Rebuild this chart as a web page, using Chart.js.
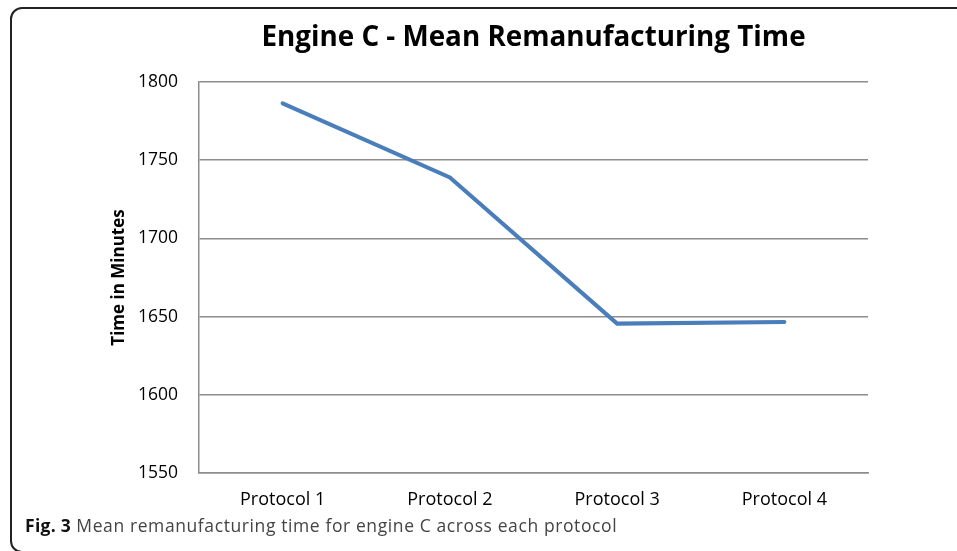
<!DOCTYPE html>
<html>
<head>
<meta charset="utf-8">
<script src="https://cdn.jsdelivr.net/npm/chart.js@4/dist/chart.umd.min.js"></script>
<style>
  html, body { margin: 0; padding: 0; background: #fff; }
  #wrap { position: relative; width: 957px; height: 551px; overflow: hidden; background: #fff; }
  #frame { position: absolute; left: 10px; top: 7px; width: 1000px; height: 546px; border: 2px solid #222; border-radius: 12px; box-sizing: border-box; }
  #c { position: absolute; left: 0; top: 0; }
  #caption { position: absolute; left: 25px; top: 515px; font-family: "Open Sans", sans-serif; font-size: 17.5px; letter-spacing: 0.6px; line-height: 20px; color: #444; white-space: nowrap; }
  #caption b { color: #111; letter-spacing: 0.3px; }
</style>
</head>
<body>
<div id="wrap">
  <div id="frame"></div>
  <canvas id="c" width="957" height="551"></canvas>
  <div id="caption"><b>Fig. 3</b> Mean remanufacturing time for engine C across each protocol</div>
</div>
<script>
const categories = ["Protocol 1", "Protocol 2", "Protocol 3", "Protocol 4"];
const meanTime = [1786.3, 1738.9, 1645.5, 1646.5];
const yMin = 1550;
const yMax = 1800;
const yStep = 50;
const chartTitle = "Engine C - Mean Remanufacturing Time";
const yTitle = "Time in Minutes";

const FONT = '"Open Sans", sans-serif';
const GRID = '#8c8c8c';

new Chart(document.getElementById('c'), {
  type: 'line',
  data: {
    labels: categories,
    datasets: [{
      data: meanTime,
      borderColor: '#4a7ebb',
      borderWidth: 4,
      borderCapStyle: 'round',
      borderJoinStyle: 'miter',
      pointRadius: 0,
      tension: 0,
      fill: false
    }]
  },
  options: {
    responsive: false,
    animation: false,
    layout: { padding: { left: 0, right: 89, top: 0, bottom: 0 } },
    plugins: {
      legend: { display: false },
      tooltip: { enabled: false },
      title: {
        display: true,
        text: chartTitle,
        fullSize: false,
        color: '#000',
        font: { family: FONT, size: 27.8, weight: 'bold', lineHeight: 1.2 },
        padding: { top: 21, bottom: 27.6 }
      }
    },
    scales: {
      x: {
        offset: true,
        grid: { display: false, drawTicks: false },
        border: { display: true, color: GRID, width: 1.5 },
        ticks: { color: '#000', font: { family: FONT, size: 18 }, padding: 16, maxRotation: 0 },
        afterFit: (s) => { s.height = 78; }
      },
      y: {
        min: yMin,
        max: yMax,
        ticks: { stepSize: yStep, color: '#000', font: { family: FONT, size: 17.5 }, padding: 21, callback: (v) => String(v) },
        grid: { color: GRID, lineWidth: 1.5, drawTicks: false },
        border: { display: true, color: GRID, width: 1.5 },
        title: {
          display: true,
          text: yTitle,
          color: '#000',
          font: { family: FONT, size: 17, weight: 'bold', lineHeight: 1.2 },
          padding: { top: 109, bottom: 0 }
        },
        afterFit: (s) => { s.width = 199; }
      }
    }
  }
});
</script>
</body>
</html>
